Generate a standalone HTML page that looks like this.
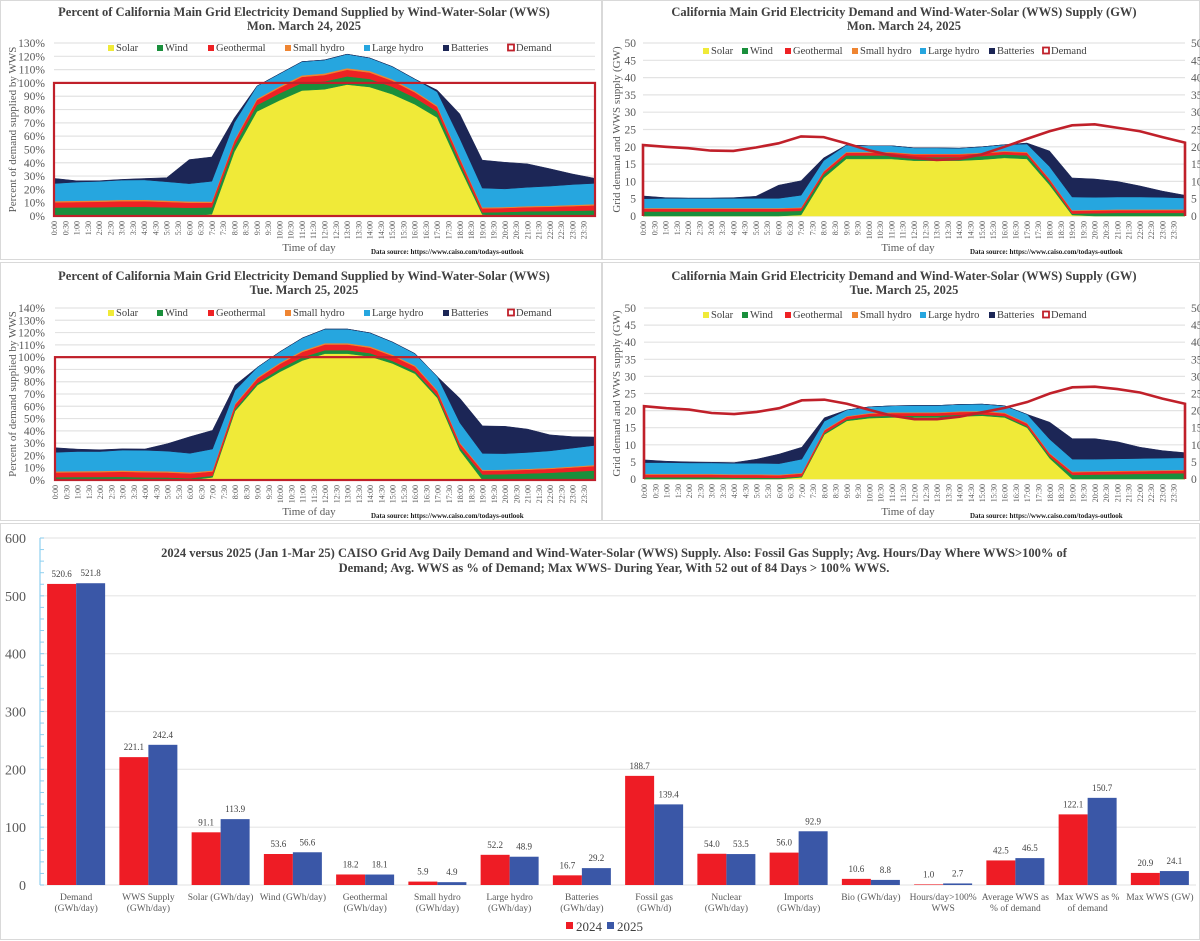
<!DOCTYPE html>
<html><head><meta charset="utf-8">
<style>
html,body{margin:0;padding:0;background:#fff;}
body{width:1200px;height:941px;overflow:hidden;position:relative;font-family:"Liberation Serif",serif;}
svg{position:absolute;left:0;top:0;}
text{font-family:"Liberation Serif",serif;}
</style></head>
<body>
<svg id="root" width="1200" height="941" viewBox="0 0 1200 941">
  <g stroke="#d9d9d9" fill="none" stroke-width="1">
    <rect x="0.5" y="0.5" width="601" height="259"/>
    <rect x="602.5" y="0.5" width="597" height="259"/>
    <rect x="0.5" y="262.5" width="601" height="258"/>
    <rect x="602.5" y="262.5" width="597" height="258"/>
    <rect x="0.5" y="523.5" width="1199" height="416"/>
  </g>
  <g id="charts"></g>
</svg>
<script>
// ---------- hourly data (hours 0..24), GW ----------
const hours = [0,1,2,3,4,5,6,7,8,9,10,11,12,13,14,15,16,17,18,19,20,21,22,23,24];
const seriesNames = ["Solar","Wind","Geothermal","Small hydro","Large hydro","Batteries"];
const seriesColors = ["#f0ea38","#1a8f3c","#ee2124","#ef8532","#26a6df","#1c2656"];

const d1Demand = [20.5,20,19.6,18.9,18.8,19.8,21,23,22.8,21,19,17.5,16.8,16.2,16.5,17.8,20,22.3,24.5,26.2,26.5,25.5,24.5,22.8,21.2];
const d1Solar  = [0,0,0,0,0,0,0,0.3,11,16.5,16.5,16.5,16,16,16,16.3,16.8,16.5,9,0.3,0,0,0,0,0];
const d1Wind   = [1.3,1.3,1.3,1.3,1.3,1.3,1.3,1.2,1,1,1,1,1,1,1,1,1,1,0.8,0.4,0.8,0.9,0.9,0.9,0.9];
const d1Geo    = [0.8,0.8,0.8,0.8,0.8,0.8,0.8,0.8,0.8,0.8,0.8,0.8,0.8,0.8,0.8,0.8,0.8,0.8,0.8,0.8,0.8,0.8,0.8,0.8,0.8];
const d1SmallH = [0.2,0.2,0.2,0.2,0.2,0.2,0.2,0.2,0.2,0.2,0.2,0.2,0.2,0.2,0.2,0.2,0.2,0.2,0.2,0.2,0.2,0.2,0.2,0.2,0.2];
const d1LargeH = [2.7,2.8,2.8,2.8,2.8,2.8,2.8,3.5,3,2,1.8,1.8,1.7,1.7,1.6,1.7,1.8,2.3,3.5,3.8,3.6,3.6,3.6,3.5,3.3];
const d1Batt   = [0.8,0.2,0.1,0.1,0.2,0.6,3.8,4.2,0.8,0,0,0,0,0,0,0,0,0.3,4.5,5.5,5.3,4.5,3.2,1.8,0.8];

const d2Demand = [21.3,20.7,20.3,19.3,19,19.6,20.7,23,23.2,22,20.2,18.5,17.5,17.5,18.2,19.5,20.8,22.5,25,26.8,27,26.3,25.3,23.5,22];
const d2Solar  = [0,0,0,0,0,0,0,0.5,13,17,17.8,18,18,18,18.3,18.5,18,15,6,0,0,0,0,0,0];
const d2Wind   = [0.5,0.5,0.5,0.5,0.4,0.4,0.3,0.3,0.4,0.4,0.5,0.5,0.5,0.5,0.5,0.4,0.4,0.4,0.6,1.2,1.3,1.4,1.5,1.6,1.7];
const d2Geo    = [0.8,0.8,0.8,0.8,0.8,0.8,0.8,0.8,0.8,0.8,0.8,0.8,0.8,0.8,0.8,0.8,0.8,0.8,0.8,0.8,0.8,0.8,0.8,0.8,0.8];
const d2SmallH = [0.2,0.2,0.2,0.2,0.2,0.2,0.2,0.2,0.2,0.2,0.2,0.2,0.2,0.2,0.2,0.2,0.2,0.2,0.2,0.2,0.2,0.2,0.2,0.2,0.2];
const d2LargeH = [3.3,3.3,3.2,3.2,3.2,3.2,3.2,4,2.5,1.8,1.8,1.9,2,2,2,2,2,2.5,4,3.6,3.5,3.5,3.5,3.5,3.5];
const d2Batt   = [0.8,0.4,0.3,0.2,0.2,1.2,2.8,3.5,1,0,0,0,0,0,0,0,0,0,5,6,6,5,3.3,2.2,1.5];

// ---------- bar chart data ----------
const barCats = ["Demand|(GWh/day)","WWS Supply|(GWh/day)","Solar (GWh/day)","Wind (GWh/day)","Geothermal|(GWh/day)","Small hydro|(GWh/day)","Large hydro|(GWh/day)","Batteries|(GWh/day)","Fossil gas|(GWh/d)","Nuclear|(GWh/day)","Imports|(GWh/day)","Bio (GWh/day)","Hours/day>100%|WWS","Average WWS as|% of demand","Max WWS as %|of demand","Max WWS (GW)"];
const bar2024 = [520.6,221.1,91.1,53.6,18.2,5.9,52.2,16.7,188.7,54.0,56.0,10.6,1.0,42.5,122.1,20.9];
const bar2025 = [521.8,242.4,113.9,56.6,18.1,4.9,48.9,29.2,139.4,53.5,92.9,8.8,2.7,46.5,150.7,24.1];
const barTicks = [0,100,200,300,400,500,600];

const NS = "http://www.w3.org/2000/svg";
const root = document.getElementById("charts");
function mk(tag, attrs, parent, txt){
  const e = document.createElementNS(NS, tag);
  for (const k in attrs) e.setAttribute(k, attrs[k]);
  if (txt !== undefined) e.textContent = txt;
  (parent || root).appendChild(e);
  return e;
}

function timeLabel(i){ const h=Math.floor(i/2); return h+":"+(i%2?"30":"00"); }

function drawArea(cfg){
  const g = mk("g", {}, root);
  
  
  const L=cfg.left, R=cfg.right, T=cfg.top, B=cfg.bottom;
  const x = h => L + (h/24)*(R-L);
  const y = v => B - (v/cfg.ymax)*(B-T);
  for (let v=0; v<=cfg.ymax+1e-9; v+=cfg.ystep){
    const gl = mk("line",{x1:L,x2:R,y1:y(v),y2:y(v),stroke:"#e3e3e3","stroke-width":1.2},g);
    
    
    const tl = mk("text",{x:cfg.labX,y:y(v)+4,"text-anchor":"end","font-size":"11.5",fill:"#595959"},g,cfg.pct?(Math.round(v)+"%"):String(Math.round(v)));
    
    
    if (cfg.rightLab){
      const tr = mk("text",{x:cfg.rightLab,y:y(v)+4,"text-anchor":"start","font-size":"11.5",fill:"#595959"},g,String(Math.round(v)));
      
      
    }
  }
  const n = hours.length;
  let base = new Array(n).fill(0);
  const scale = i => cfg.pct ? 100/cfg.demand[i] : 1;
  cfg.series.forEach((s, si)=>{
    const top = base.map((b,i)=>b + s[i]*scale(i));
    let d = "M"+x(hours[0])+","+y(base[0]);
    for (let i=0;i<n;i++) d += " L"+x(hours[i])+","+y(top[i]);
    for (let i=n-1;i>=0;i--) d += " L"+x(hours[i])+","+y(base[i]);
    d += "Z";
    const p = mk("path",{d:d,fill:seriesColors[si],stroke:seriesColors[si],"stroke-width":0.5},g);
    
    
    base = top;
  });
  if (cfg.pct){
    const r = mk("rect",{x:L,y:y(100),width:R-L,height:B-y(100),fill:"none",stroke:"#c0202a","stroke-width":2.2},g);
    
    
  } else {
    let d = "M"+x(0)+","+y(0);
    for (let i=0;i<n;i++) d += " L"+x(hours[i])+","+y(cfg.demand[i]);
    d += " L"+x(24)+","+y(0);
    const p = mk("path",{d:d,fill:"none",stroke:"#c0202a","stroke-width":2.6},g);
    
    
  }
  for (let i=0;i<48;i++){
    const xx = L + i*(R-L)/48;
    const t = mk("text",{x:0,y:0,transform:"translate("+(xx+3)+","+(B+5)+") rotate(-90)","text-anchor":"end","font-size":"8",fill:"#595959"},g,timeLabel(i));
    
    
  }
  const t1 = mk("text",{x:cfg.cx,y:cfg.titleY,"text-anchor":"middle","font-size":"12.5","font-weight":"bold",fill:"#404040"},g,cfg.title);
  
  
  const t2 = mk("text",{x:cfg.cx,y:cfg.titleY+14,"text-anchor":"middle","font-size":"12.5","font-weight":"bold",fill:"#404040"},g,cfg.date);
  
  
  const ya = mk("text",{x:0,y:0,transform:"translate("+cfg.yTitleX+","+((T+B)/2)+") rotate(-90)","text-anchor":"middle","font-size":"11",fill:"#595959"},g,cfg.yTitle);
  
  
  const xa = mk("text",{x:cfg.xTitleX,y:cfg.xTitleY,"text-anchor":"middle","font-size":"11",fill:"#595959"},g,"Time of day");
  
  
  const ds = mk("text",{x:cfg.xTitleX+62,y:cfg.xTitleY+3,"text-anchor":"start","font-size":"7","font-weight":"bold",fill:"#202020"},g,"Data source: https://www.caiso.com/todays-outlook");
  
  
  const lg = mk("g",{},g);
  
  
  const names = seriesNames.concat(["Demand"]);
  names.forEach((nm,i)=>{
    const lx = cfg.legX[i];
    if (i<6){
      const s = mk("rect",{x:lx-8,y:cfg.legY-6,width:6,height:6,fill:seriesColors[i]},lg);
      
      
    } else {
      const s = mk("rect",{x:lx-8,y:cfg.legY-6.5,width:6,height:6,fill:"#fff",stroke:"#c0202a","stroke-width":1.8},lg);
      
      
    }
    const lt = mk("text",{x:lx,y:cfg.legY,"font-size":"10.5",fill:"#404040"},lg,nm);
    
    
  });
}

const pctTitle = "Percent of California Main Grid Electricity Demand Supplied by Wind-Water-Solar (WWS)";
const gwTitle = "California Main Grid Electricity Demand and Wind-Water-Solar (WWS) Supply (GW)";
const d1Series = [d1Solar,d1Wind,d1Geo,d1SmallH,d1LargeH,d1Batt];
const d2Series = [d2Solar,d2Wind,d2Geo,d2SmallH,d2LargeH,d2Batt];
const legPct1 = [116,165,216,293,372,451,516];
const legGw = [711,750,793,860,928,997,1051];

drawArea({name:"pct-chart-mar24",pct:true,left:54,right:595,top:43,bottom:216,ymax:130,ystep:10,labX:45,demand:d1Demand,series:d1Series,
  cx:304,titleY:16,title:pctTitle,date:"Mon. March 24, 2025",yTitleX:16,yTitle:"Percent of demand supplied by WWS",xTitleX:309,xTitleY:251,legX:legPct1,legY:51});
drawArea({name:"gw-chart-mar24",pct:false,left:643,right:1185,top:43,bottom:216,ymax:50,ystep:5,labX:636,rightLab:1191,demand:d1Demand,series:d1Series,
  cx:904,titleY:16,title:gwTitle,date:"Mon. March 24, 2025",yTitleX:620,yTitle:"Grid demand and WWS supply (GW)",xTitleX:908,xTitleY:251,legX:legGw,legY:54});
drawArea({name:"pct-chart-mar25",pct:true,left:55,right:595,top:308,bottom:480,ymax:140,ystep:10,labX:45,demand:d2Demand,series:d2Series,
  cx:304,titleY:280,title:pctTitle,date:"Tue. March 25, 2025",yTitleX:16,yTitle:"Percent of demand supplied by WWS",xTitleX:309,xTitleY:515,legX:legPct1,legY:316});
drawArea({name:"gw-chart-mar25",pct:false,left:644,right:1185,top:308,bottom:479,ymax:50,ystep:5,labX:636,rightLab:1191,demand:d2Demand,series:d2Series,
  cx:904,titleY:280,title:gwTitle,date:"Tue. March 25, 2025",yTitleX:620,yTitle:"Grid demand and WWS supply (GW)",xTitleX:908,xTitleY:515,legX:legGw,legY:318});

(function(){
  const g = mk("g",{},root);
  
  
  const L=40, R=1196, B=885, T=538, ymax=600;
  const y = v => B - (v/ymax)*(B-T);
  const band = (R-L)/barCats.length, bw = 29;
  barTicks.forEach(v=>{
    const gl = mk("line",{x1:L,x2:R,y1:y(v),y2:y(v),stroke:"#e6e6e6","stroke-width":1.2},g);
    
    
    const tl = mk("text",{x:26,y:y(v)+5,"text-anchor":"end","font-size":"14",fill:"#595959"},g,String(v));
    
    
  });
  const ax = mk("line",{x1:L,x2:L,y1:T,y2:B,stroke:"#8fd0f0","stroke-width":1.2},g);
  
  
  for (let v=0; v<=ymax; v+=20){
    const tk = mk("line",{x1:L,x2:L+4,y1:y(v),y2:y(v),stroke:"#8fd0f0","stroke-width":1},g);
    
    
  }
  barCats.forEach((c,i)=>{
    const cx = L + band*(i+0.5);
    const r1 = mk("rect",{x:cx-bw,y:y(bar2024[i]),width:bw,height:B-y(bar2024[i]),fill:"#ee1c25"},g);
    
    
    const r2 = mk("rect",{x:cx,y:y(bar2025[i]),width:bw,height:B-y(bar2025[i]),fill:"#3a57a7"},g);
    
    
    const v1 = mk("text",{x:cx-bw/2,y:y(bar2024[i])-7,"text-anchor":"middle","font-size":"9",fill:"#404040"},g,bar2024[i].toFixed(1));
    
    
    const v2 = mk("text",{x:cx+bw/2,y:y(bar2025[i])-7,"text-anchor":"middle","font-size":"9",fill:"#404040"},g,bar2025[i].toFixed(1));
    
    
    c.split("|").forEach((ln,k)=>{
      const t = mk("text",{x:cx,y:900+k*11,"text-anchor":"middle","font-size":"9.5",fill:"#595959"},g,ln);
      
      
    });
  });
  const t1 = mk("text",{x:614,y:557,"text-anchor":"middle","font-size":"12.5","font-weight":"bold",fill:"#404040"},g,"2024 versus 2025 (Jan 1-Mar 25) CAISO Grid Avg Daily Demand and Wind-Water-Solar (WWS) Supply. Also: Fossil Gas Supply; Avg. Hours/Day Where WWS>100% of");
  
  
  const t2 = mk("text",{x:614,y:572,"text-anchor":"middle","font-size":"12.5","font-weight":"bold",fill:"#404040"},g,"Demand; Avg. WWS as % of Demand; Max WWS- During Year, With 52 out of 84 Days > 100% WWS.");
  
  
  const lg = mk("g",{},g);
  
  
  const s1 = mk("rect",{x:566,y:922,width:7,height:7,fill:"#ee1c25"},lg);
  
  
  const l1 = mk("text",{x:576,y:931,"font-size":"13",fill:"#404040"},lg,"2024");
  
  
  const s2 = mk("rect",{x:607,y:922,width:7,height:7,fill:"#3a57a7"},lg);
  
  
  const l2 = mk("text",{x:617,y:931,"font-size":"13",fill:"#404040"},lg,"2025");
  
  
})();
</script>
</body></html>
